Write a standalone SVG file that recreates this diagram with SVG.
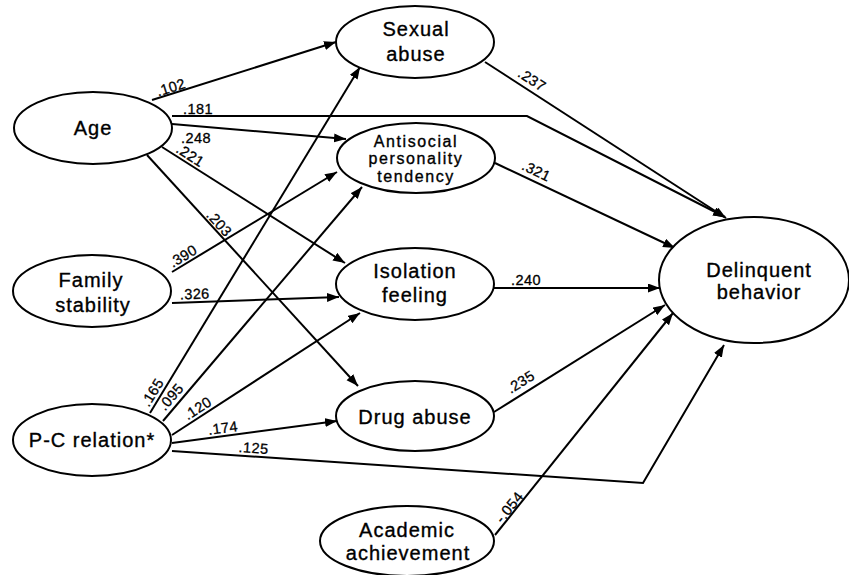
<svg xmlns="http://www.w3.org/2000/svg" width="849" height="575" viewBox="0 0 849 575">
<style>
.n{fill:#fff;stroke:#000;stroke-width:2}
.t{font-family:"Liberation Sans",Arial,sans-serif;font-size:20px;letter-spacing:1px;text-anchor:middle;fill:#000;stroke:#000;stroke-width:0.35px}
.ts{font-size:16px;letter-spacing:1.6px}
.c{fill:none;stroke:#000;stroke-width:2;marker-end:url(#ah)}
.l{font-family:"Liberation Sans",Arial,sans-serif;font-size:14.5px;letter-spacing:0.4px;text-anchor:middle;fill:#000;stroke:#000;stroke-width:0.3px}
</style>
<defs>
<marker id="ah" markerUnits="userSpaceOnUse" markerWidth="14" markerHeight="10" refX="12" refY="4.5" orient="auto">
<path d="M0,0 L12,4.5 L0,9 z" fill="#000"/>
</marker>
</defs>
<rect width="849" height="575" fill="#fff"/>
<g id="connectors">
<line class="c" x1="152" y1="100" x2="336" y2="42"/>
<polyline class="c" points="172,116 527,116 725,217"/>
<line class="c" x1="172" y1="124" x2="346" y2="139"/>
<line class="c" x1="162" y1="147" x2="345" y2="263"/>
<line class="c" x1="147" y1="155" x2="358" y2="386"/>
<line class="c" x1="172" y1="272" x2="337" y2="172"/>
<line class="c" x1="172" y1="303" x2="339" y2="297"/>
<line class="c" x1="150" y1="413" x2="360" y2="67"/>
<line class="c" x1="163" y1="421" x2="362" y2="187"/>
<line class="c" x1="172" y1="435" x2="360" y2="313"/>
<line class="c" x1="172" y1="443" x2="337" y2="421"/>
<polyline class="c" points="172,451 643,483 724,345"/>
<line class="c" x1="485" y1="62" x2="726" y2="218"/>
<line class="c" x1="495" y1="163" x2="675" y2="248"/>
<line class="c" x1="494" y1="288" x2="660" y2="288"/>
<line class="c" x1="494" y1="412" x2="665" y2="305"/>
<line class="c" x1="495" y1="535" x2="673" y2="313"/>
</g>
<g id="labels">
<text class="l" transform="translate(173,94) rotate(-17.6)" y="-2">.102</text>
<text class="l" x="198" y="114">.181</text>
<text class="l" x="196" y="143">.248</text>
<text class="l" transform="translate(186,162) rotate(32.4)" y="-3">.221</text>
<text class="l" transform="translate(214,228) rotate(47.6)" y="-2">.203</text>
<text class="l" transform="translate(187,263) rotate(-31)" y="-3">.390</text>
<text class="l" transform="translate(195,302) rotate(-2)" y="-3">.326</text>
<text class="l" transform="translate(160,397) rotate(-58.7)" y="-4">.165</text>
<text class="l" transform="translate(177,402) rotate(-49.5)" y="-3">.095</text>
<text class="l" transform="translate(202,415) rotate(-33)" y="-3">.120</text>
<text class="l" transform="translate(224,436) rotate(-7.3)" y="-3">.174</text>
<text class="l" transform="translate(253,456) rotate(3.9)" y="-3">.125</text>
<text class="l" transform="translate(526,89) rotate(32.9)" y="-6">.237</text>
<text class="l" transform="translate(532,180) rotate(25.3)" y="-5">.321</text>
<text class="l" x="526" y="285">.240</text>
<text class="l" transform="translate(527,392) rotate(-32.2)" y="-7">.235</text>
<text class="l" transform="translate(514,511) rotate(-51.3)" y="-1">-.054</text>
</g>
<g id="age"><ellipse class="n" cx="93" cy="128" rx="79" ry="36"/><text class="t" x="93" y="135">Age</text></g>
<g id="family"><ellipse class="n" cx="92" cy="291" rx="79" ry="36"/><text class="t" x="91" y="287">Family</text><text class="t" x="93" y="312">stability</text></g>
<g id="pc"><ellipse class="n" cx="92" cy="440" rx="79" ry="36"/><text class="t" x="92" y="447">P-C relation*</text></g>
<g id="sexual"><ellipse class="n" cx="415" cy="42" rx="79" ry="36"/><text class="t" x="416" y="36">Sexual</text><text class="t" x="416" y="61">abuse</text></g>
<g id="antisocial"><ellipse class="n" cx="416" cy="158" rx="79" ry="35"/><text class="t ts" x="416" y="146.5">Antisocial</text><text class="t ts" x="416" y="164">personality</text><text class="t ts" x="416" y="181.5">tendency</text></g>
<g id="isolation"><ellipse class="n" cx="415" cy="284" rx="79" ry="36"/><text class="t" x="415" y="278">Isolation</text><text class="t" x="415" y="302">feeling</text></g>
<g id="drug"><ellipse class="n" cx="415" cy="416" rx="79" ry="35"/><text class="t" x="415" y="424">Drug abuse</text></g>
<g id="academic"><ellipse class="n" cx="407" cy="541" rx="87" ry="35"/><text class="t" x="407" y="537">Academic</text><text class="t" x="408" y="560">achievement</text></g>
<g id="delinquent"><ellipse class="n" cx="754" cy="280" rx="95" ry="63"/><text class="t" x="759" y="277">Delinquent</text><text class="t" x="759" y="299">behavior</text></g>
</svg>
